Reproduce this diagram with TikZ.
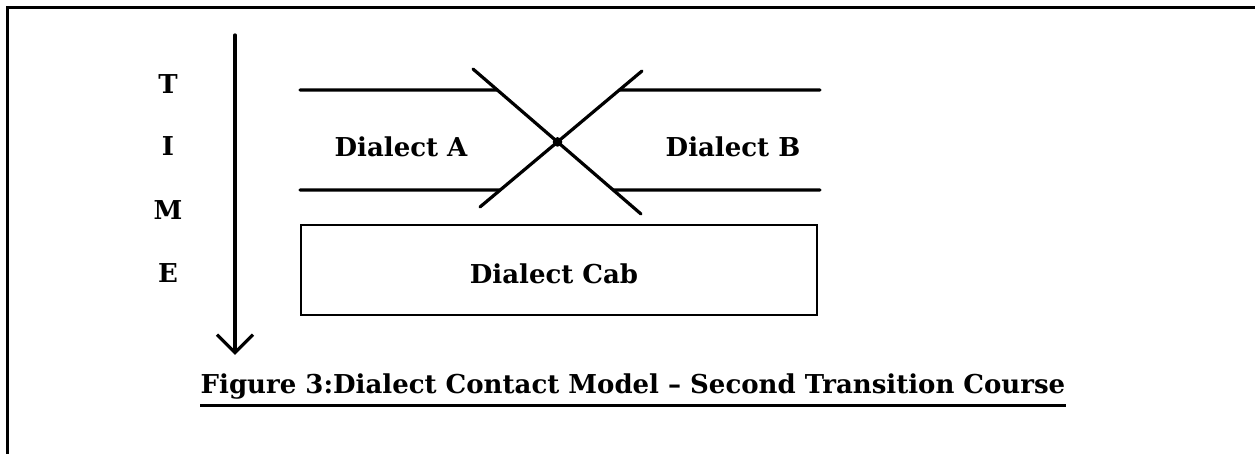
\documentclass[tikz,border=0pt]{standalone}
\usepackage{fontspec}
\setmainfont{DejaVu Serif}
\usetikzlibrary{arrows.meta,calc}
\tikzset{rule/.style={line width=1.6pt, line cap=round},
  lbl/.style={font=\fontsize{13}{15}\selectfont\bfseries, inner sep=0pt},
  cabbox/.style={draw, line width=1.4pt, minimum width=258pt, minimum height=45pt, inner sep=0pt}}

\begin{document}
\begin{tikzpicture}[x=0.5pt, y=-0.5pt]
  \useasboundingbox (0,0) rectangle (1255,454);
  % page frame, only top and left edges show
  \draw[line width=1.5pt] (7,454) -- (7,8) -- (1255,8);
  % time axis with the letters beside it
  \coordinate (t0) at (235,35);
  \coordinate (t1) at (235,355);
  \draw[rule, -{Straight Barb[length=9pt, width=18pt]}] (t0) -- (t1);
  \foreach \ch/\y in {T/84,I/146,M/210,E/273}
    \node[lbl] (time-\ch) at (168,\y) {\ch};
  % the two dialect bands
  \coordinate (aT) at (300,90);
  \coordinate (bT) at (820,90);
  \coordinate (aB) at (300,190);
  \coordinate (bB) at (820,190);
  \node[lbl] (dA) at (401,147) {Dialect A};
  \node[lbl] (dB) at (733,147) {Dialect B};
  % crossing
  \coordinate (xa0) at (473,69);
  \coordinate (xa1) at (641,214);
  \coordinate (xb0) at (642,71);
  \coordinate (xb1) at (480,207);
  \draw[rule] (xa0) -- (xa1);
  \draw[rule] (xb0) -- (xb1);
  \fill (intersection of xa0--xa1 and xb0--xb1) circle (2.4pt);
  % band edges stop at the cross
  \draw[rule] (aT) -- (intersection of aT--bT and xa0--xa1);
  \draw[rule] (bT) -- (intersection of aT--bT and xb0--xb1);
  \draw[rule] (aB) -- (intersection of aB--bB and xb0--xb1);
  \draw[rule] (bB) -- (intersection of aB--bB and xa0--xa1);
  % resulting dialect
  \node[cabbox] (cab) at (559,270) {};
  \node[lbl] (cabtxt) at (554,274) {Dialect Cab};
  % caption, underlined
  \node[lbl] (cap) at (633,387) {Figure 3:Dialect Contact Model -- Second Transition Course};
  \draw[line width=1.4pt] ($(cap.south west)+(0,5)$) -- ($(cap.south east)+(0,5)$);
\end{tikzpicture}
\end{document}
